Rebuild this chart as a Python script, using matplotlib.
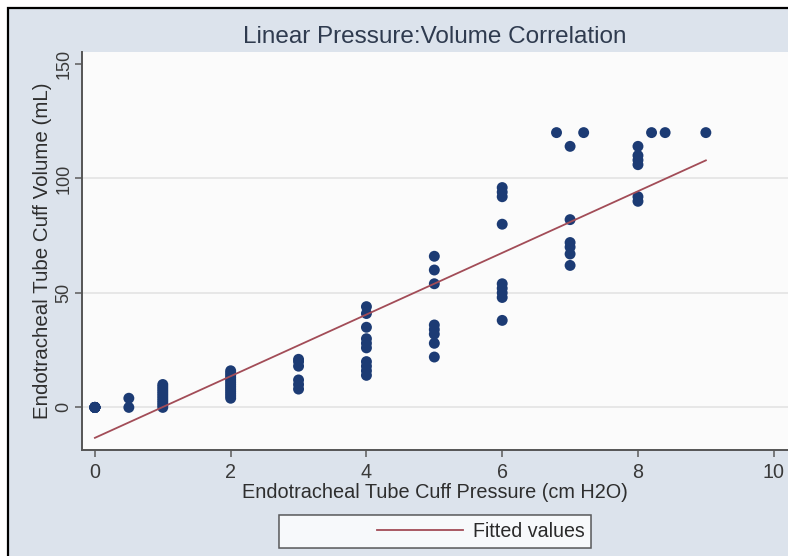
import numpy as np
import matplotlib
matplotlib.use("Agg")
import matplotlib.pyplot as plt
from matplotlib.lines import Line2D
from matplotlib.patches import Rectangle
from matplotlib.legend_handler import HandlerBase

plt.rcParams['font.family'] = ['Liberation Sans', 'DejaVu Sans']

# Cuff pressure (cm H2O) and cuff volume (mL) for each measurement
pressure = np.array(
    [0] * 9
    + [0.5] * 2
    + [1] * 11
    + [2] * 13
    + [3] * 6
    + [4] * 10
    + [5] * 8
    + [6] * 9
    + [6.8]
    + [7] * 6
    + [7.2]
    + [8] * 6
    + [8.2, 8.4, 9]
)
volume = np.array(
    [0] * 9
    + [0, 4]
    + [0, 1, 2, 3, 4, 5, 6, 7, 8, 9, 10]
    + [4, 5, 6, 7, 8, 9, 10, 11, 12, 13, 14, 15, 16]
    + [8, 10, 12, 18, 20, 21]
    + [14, 16, 18, 20, 26, 28, 30, 35, 41, 44]
    + [22, 28, 32, 34, 36, 54, 60, 66]
    + [38, 48, 50, 52, 54, 80, 92, 94, 96]
    + [120]
    + [62, 67, 70, 72, 82, 114]
    + [120]
    + [90, 92, 106, 108, 110, 114]
    + [120, 120, 120]
)

x_ticks = [0, 2, 4, 6, 8, 10]
y_ticks = [0, 50, 100, 150]

title = "Linear Pressure:Volume Correlation"
x_title = "Endotracheal Tube Cuff Pressure (cm H2O)"
y_title = "Endotracheal Tube Cuff Volume (mL)"

# Ordinary least squares fit over the observed pressure range
slope, intercept = np.polyfit(pressure, volume, 1)
fit_x = np.array([pressure.min(), pressure.max()])
fit_y = intercept + slope * fit_x

BG = '#dce3ec'
NAVY = '#1c3b74'
MAROON = '#a24c57'

fig = plt.figure(figsize=(7.88, 5.56), dpi=100, facecolor='white')
fig.patches.append(Rectangle((8 / 788, -0.02), 1.05, 1 - 8 / 556 + 0.02,
                             transform=fig.transFigure, facecolor=BG,
                             edgecolor='black', linewidth=1.6, zorder=-10))

ax = fig.add_axes([82 / 788, 1 - 450 / 556, 706 / 788, (450 - 52) / 556])
ax.set_facecolor('#fbfbfb')

ax.scatter(pressure, volume, s=62, color=NAVY, edgecolors='none', zorder=3)
ax.plot(fit_x, fit_y, color=MAROON, linewidth=1.3, zorder=4,
        label='Fitted values')

ax.set_xlim(-0.19, 10.21)
ax.set_ylim(-18.6, 155.2)
ax.set_xticks(x_ticks)
ax.set_yticks(y_ticks)
ax.set_yticklabels([str(v) for v in y_ticks], rotation=90, va='center')

ax.yaxis.grid(True, color='#e2e2e2', linewidth=1.1)
ax.set_axisbelow(True)
ax.get_ygridlines()[-1].set_visible(False)

for side in ('top', 'right'):
    ax.spines[side].set_visible(False)
for side in ('left', 'bottom'):
    ax.spines[side].set_color('#555555')
    ax.spines[side].set_linewidth(1.4)

ax.tick_params(axis='x', length=5, width=1.2, color='#666666',
               labelsize=14.2, labelcolor='#3a3a3a', pad=4.3)
ax.tick_params(axis='y', length=5, width=1.2, color='#666666',
               labelsize=13, labelcolor='#3a3a3a', pad=2)

ax.set_xlabel(x_title, fontsize=14.3, color='#2e2e2e', va='center')
ax.xaxis.set_label_coords(0.5, -0.108)
ax.set_ylabel(y_title, fontsize=14.8, color='#2e2e2e', va='center')
ax.yaxis.set_label_coords(-0.056, 0.5)

fig.text((82 + 788) / 2 / 788, 1 - 37 / 556, title, fontsize=17.5,
         color='#2f3b4f', ha='center', va='center')


class GapLineHandler(HandlerBase):
    """Legend key: a line occupying only the right part of the key area."""

    def __init__(self, gap_frac, **kw):
        super().__init__(**kw)
        self.gap_frac = gap_frac

    def create_artists(self, legend, orig_handle, xdescent, ydescent,
                       width, height, fontsize, trans):
        y = height / 2 - ydescent
        x0 = -xdescent + width * self.gap_frac
        line = Line2D([x0, width - xdescent], [y, y])
        self.update_prop(line, orig_handle, legend)
        line.set_transform(trans)
        return [line]


handles, labels = ax.get_legend_handles_labels()
leg = fig.legend(handles, labels, loc='upper center',
                 bbox_to_anchor=((278 + 592) / 2 / 788, 1 - 515 / 556),
                 bbox_transform=fig.transFigure, frameon=True,
                 fancybox=False, shadow=False, fontsize=14.1,
                 borderaxespad=0, handlelength=9.05, handletextpad=0.5,
                 borderpad=0.35,
                 handler_map={Line2D: GapLineHandler(0.513)})
leg.get_frame().set_edgecolor('#333333')
leg.get_frame().set_linewidth(1.1)
leg.get_frame().set_facecolor('white')
for t in leg.get_texts():
    t.set_color('#2a2a2a')

fig.savefig('out.png', dpi=100, facecolor=fig.get_facecolor())
